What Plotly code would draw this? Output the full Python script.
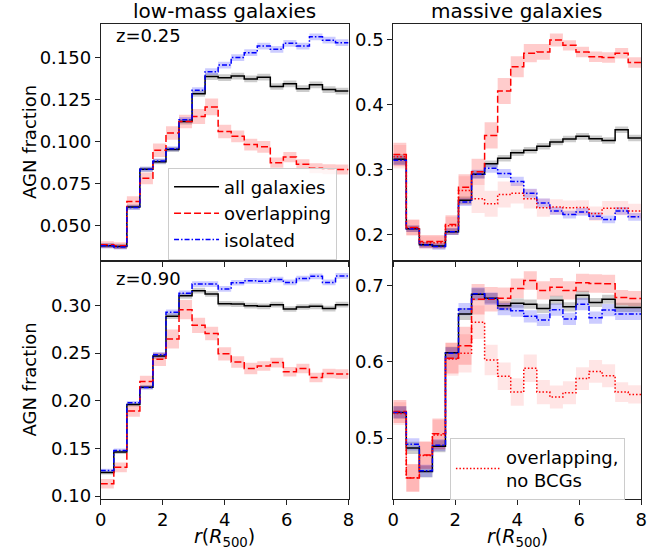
import numpy as np
import plotly.graph_objects as go

# ---------------- data ----------------
r_edges = np.linspace(0, 8, 20)  # 19 radial bins in units of R500

# low-mass, z=0.25
lm25_all = [0.0383, 0.0379, 0.0613, 0.0837, 0.0882, 0.0954, 0.1120, 0.1285, 0.1387, 0.1380,
            0.1390, 0.1373, 0.1383, 0.1328, 0.1344, 0.1315, 0.1338, 0.1310, 0.1301]
lm25_all_err = [0.0015, 0.0015, 0.0015, 0.0015, 0.0015, 0.0015, 0.0017, 0.0018, 0.0020, 0.0020,
                0.0020, 0.0020, 0.0020, 0.0020, 0.0020, 0.0020, 0.0020, 0.0020, 0.0020]
lm25_ovl = [0.0389, 0.0383, 0.0646, 0.0783, 0.0950, 0.1052, 0.1120, 0.1150, 0.1207, 0.1061,
            0.1032, 0.0983, 0.0970, 0.0876, 0.0909, 0.0866, 0.0843, 0.0837, 0.0835]
lm25_ovl_err = [0.0020, 0.0020, 0.0030, 0.0035, 0.0040, 0.0040, 0.0040, 0.0045, 0.0050, 0.0040,
                0.0035, 0.0035, 0.0035, 0.0030, 0.0030, 0.0030, 0.0030, 0.0030, 0.0030]
lm25_iso = [0.0383, 0.0375, 0.0610, 0.0837, 0.0886, 0.0958, 0.1130, 0.1305, 0.1416, 0.1455,
            0.1500, 0.1529, 0.1568, 0.1549, 0.1584, 0.1568, 0.1623, 0.1603, 0.1588]
lm25_iso_err = [0.0015, 0.0015, 0.0015, 0.0015, 0.0015, 0.0015, 0.0017, 0.0018, 0.0020, 0.0020,
                0.0020, 0.0020, 0.0020, 0.0020, 0.0020, 0.0020, 0.0020, 0.0020, 0.0020]

# massive, z=0.25
ms25_all = [0.3160, 0.2095, 0.1850, 0.1830, 0.2050, 0.2530, 0.2930, 0.3090, 0.3175, 0.3260,
            0.3300, 0.3360, 0.3427, 0.3472, 0.3512, 0.3477, 0.3447, 0.3613, 0.3487]
ms25_all_err = [0.008, 0.005, 0.004, 0.004, 0.005, 0.006, 0.006, 0.005, 0.005, 0.005,
                0.005, 0.005, 0.005, 0.005, 0.005, 0.005, 0.005, 0.005, 0.005]
ms25_ovl = [0.3235, 0.2115, 0.1900, 0.1900, 0.2160, 0.2730, 0.2970, 0.3527, 0.4208, 0.4581,
            0.4788, 0.4808, 0.4990, 0.4909, 0.4808, 0.4733, 0.4723, 0.4788, 0.4647]
ms25_ovl_err = [0.018, 0.012, 0.010, 0.010, 0.014, 0.020, 0.020, 0.020, 0.020, 0.016,
                0.014, 0.012, 0.010, 0.008, 0.008, 0.008, 0.008, 0.008, 0.008]
ms25_iso = [0.3144, 0.2095, 0.1843, 0.1823, 0.2050, 0.2504, 0.2930, 0.3023, 0.2943, 0.2821,
            0.2640, 0.2489, 0.2368, 0.2312, 0.2352, 0.2287, 0.2237, 0.2368, 0.2277]
ms25_iso_err = [0.007, 0.005, 0.005, 0.005, 0.005, 0.006, 0.007, 0.007, 0.007, 0.007,
                0.007, 0.007, 0.006, 0.006, 0.006, 0.006, 0.006, 0.006, 0.006]
ms25_nobcg = [0.3200, 0.2110, 0.1880, 0.1880, 0.2140, 0.2680, 0.2554, 0.2478, 0.2620, 0.2640,
              0.2554, 0.2418, 0.2428, 0.2418, 0.2420, 0.2327, 0.2410, 0.2410, 0.2367]
ms25_nobcg_err = [0.018, 0.012, 0.010, 0.010, 0.014, 0.022, 0.022, 0.020, 0.020, 0.016,
                  0.015, 0.014, 0.012, 0.011, 0.011, 0.011, 0.011, 0.011, 0.011]

# low-mass, z=0.90
lm90_all = [0.1247, 0.1463, 0.1960, 0.2142, 0.2468, 0.2887, 0.3100, 0.3154, 0.3120, 0.3017,
            0.3014, 0.2997, 0.2990, 0.3007, 0.2962, 0.2983, 0.2990, 0.2966, 0.3007]
lm90_all_err = [0.002, 0.002, 0.002, 0.002, 0.003, 0.003, 0.003, 0.003, 0.003, 0.003,
                0.003, 0.003, 0.003, 0.003, 0.003, 0.003, 0.003, 0.003, 0.003]
lm90_ovl = [0.1130, 0.1302, 0.1892, 0.2201, 0.2434, 0.2647, 0.2955, 0.2791, 0.2705, 0.2492,
            0.2407, 0.2338, 0.2365, 0.2400, 0.2304, 0.2338, 0.2245, 0.2286, 0.2280]
lm90_ovl_err = [0.005, 0.005, 0.006, 0.006, 0.007, 0.010, 0.010, 0.008, 0.007, 0.007,
                0.006, 0.006, 0.005, 0.005, 0.005, 0.005, 0.005, 0.005, 0.005]
lm90_iso = [0.1268, 0.1480, 0.1978, 0.2139, 0.2482, 0.2928, 0.3127, 0.3223, 0.3223, 0.3172,
            0.3237, 0.3257, 0.3254, 0.3271, 0.3240, 0.3281, 0.3305, 0.3240, 0.3309]
lm90_iso_err = [0.002, 0.002, 0.002, 0.002, 0.003, 0.003, 0.003, 0.003, 0.003, 0.003,
                0.003, 0.003, 0.003, 0.003, 0.003, 0.003, 0.003, 0.003, 0.003]

# massive, z=0.90
ms90_all = [0.5335, 0.4870, 0.4561, 0.4892, 0.6118, 0.6626, 0.6884, 0.6832, 0.6733, 0.6768,
            0.6755, 0.6699, 0.6806, 0.6720, 0.6871, 0.6776, 0.6819, 0.6712, 0.6712]
ms90_all_err = [0.008, 0.008, 0.008, 0.008, 0.008, 0.008, 0.008, 0.007, 0.006, 0.006,
                0.006, 0.006, 0.006, 0.006, 0.006, 0.006, 0.006, 0.006, 0.006]
ms90_ovl = [0.5348, 0.4475, 0.4776, 0.5056, 0.6045, 0.6209, 0.6819, 0.6819, 0.6832, 0.6961,
            0.7065, 0.6935, 0.6978, 0.6935, 0.7034, 0.7026, 0.7022, 0.6841, 0.6828]
ms90_ovl_err = [0.015, 0.018, 0.018, 0.020, 0.020, 0.025, 0.020, 0.016, 0.014, 0.013,
                0.012, 0.012, 0.012, 0.012, 0.012, 0.012, 0.012, 0.010, 0.010]
ms90_iso = [0.5335, 0.4918, 0.4570, 0.4905, 0.6110, 0.6690, 0.6892, 0.6828, 0.6690, 0.6669,
            0.6596, 0.6548, 0.6682, 0.6561, 0.6755, 0.6578, 0.6677, 0.6626, 0.6626]
ms90_iso_err = [0.008, 0.008, 0.008, 0.008, 0.008, 0.008, 0.008, 0.008, 0.008, 0.008,
                0.008, 0.008, 0.008, 0.008, 0.008, 0.008, 0.008, 0.008, 0.008]
ms90_nobcg = [0.5320, 0.4480, 0.4770, 0.5040, 0.6037, 0.6110, 0.6518, 0.6024, 0.5809, 0.5602,
              0.5916, 0.5602, 0.5538, 0.5594, 0.5779, 0.5873, 0.5817, 0.5602, 0.5572]
ms90_nobcg_err = [0.015, 0.018, 0.018, 0.020, 0.022, 0.025, 0.022, 0.020, 0.018, 0.018,
                  0.018, 0.016, 0.015, 0.015, 0.015, 0.015, 0.015, 0.013, 0.012]

panel_titles = ["low-mass galaxies", "massive galaxies"]
z_labels = ["z=0.25", "z=0.90"]

# ---------------- styling ----------------
FONT = "DejaVu Sans"
BLACK = "#000000"
RED = "#ff0000"
BLUE = "#0000ff"

W, H = 671, 558
xdom_left = [96.5 / W, 348.8 / W]
xdom_right = [394.3 / W, 646.8 / W]
ydom_top = [1 - 265 / H, 1 - 24 / H]
ydom_bot = [1 - 506 / H, 1 - 265 / H]

fig = go.Figure()


def step_xy(vals):
    return list(r_edges), list(vals) + [vals[-1]]


def add_band(ax, vals, err, fill):
    lo = [v - e for v, e in zip(vals, err)]
    hi = [v + e for v, e in zip(vals, err)]
    x, ylo = step_xy(lo)
    _, yhi = step_xy(hi)
    fig.add_trace(go.Scatter(x=x, y=ylo, mode="lines", line=dict(width=0, shape="hv"),
                             showlegend=False, hoverinfo="skip", xaxis="x" + ax, yaxis="y" + ax))
    fig.add_trace(go.Scatter(x=x, y=yhi, mode="lines", line=dict(width=0, shape="hv"),
                             fill="tonexty", fillcolor=fill, showlegend=False, hoverinfo="skip",
                             xaxis="x" + ax, yaxis="y" + ax))


def add_line(ax, vals, color, dash, name, showlegend=False, legend="legend", width=1.5):
    x, y = step_xy(vals)
    fig.add_trace(go.Scatter(x=x, y=y, mode="lines", name=name,
                             line=dict(color=color, width=width, dash=dash, shape="hv"),
                             showlegend=showlegend, legend=legend,
                             xaxis="x" + ax, yaxis="y" + ax))


DASH = "7px,3px"
DASHDOT = "5px,2px,1.5px,2px"
DOT = "1.5px,2px"

panels = [
    ("", lm25_all, lm25_all_err, lm25_ovl, lm25_ovl_err, lm25_iso, lm25_iso_err, None, None),
    ("2", ms25_all, ms25_all_err, ms25_ovl, ms25_ovl_err, ms25_iso, ms25_iso_err, ms25_nobcg, ms25_nobcg_err),
    ("3", lm90_all, lm90_all_err, lm90_ovl, lm90_ovl_err, lm90_iso, lm90_iso_err, None, None),
    ("4", ms90_all, ms90_all_err, ms90_ovl, ms90_ovl_err, ms90_iso, ms90_iso_err, ms90_nobcg, ms90_nobcg_err),
]

for ax, a, ae, o, oe, i, ie, nb, nbe in panels:
    add_band(ax, a, ae, "rgba(0,0,0,0.2)")
    add_band(ax, o, oe, "rgba(255,0,0,0.2)")
    add_band(ax, i, ie, "rgba(0,0,255,0.2)")
    if nb is not None:
        add_band(ax, nb, nbe, "rgba(255,0,0,0.1)")
    first = ax == ""
    add_line(ax, a, BLACK, "solid", "all galaxies", showlegend=first)
    add_line(ax, o, RED, DASH, "overlapping", showlegend=first)
    add_line(ax, i, BLUE, DASHDOT, "isolated", showlegend=first)
    if nb is not None:
        add_line(ax, nb, RED, DOT, "overlapping,<br>no BCGs", showlegend=(ax == "4"),
                 legend="legend2")

axis_common = dict(showline=True, mirror=True, linecolor="#222222", linewidth=1,
                   ticks="outside", ticklen=5, tickwidth=1, tickcolor="#222222",
                   showgrid=False, zeroline=False,
                   tickfont=dict(family=FONT, size=18, color="#000000"))

xcommon = dict(axis_common, range=[0, 8], tickvals=[0, 2, 4, 6, 8])

fig.update_layout(
    width=W, height=H,
    margin=dict(l=0, r=0, t=0, b=0),
    paper_bgcolor="white", plot_bgcolor="white",
    font=dict(family=FONT, size=18, color="#000000"),
    xaxis=dict(xcommon, domain=xdom_left, anchor="y", showticklabels=False),
    yaxis=dict(axis_common, domain=ydom_top, anchor="x", range=[0.0291, 0.1701],
               tickvals=[0.05, 0.075, 0.1, 0.125, 0.15], tickformat=".3f"),
    xaxis2=dict(xcommon, domain=xdom_right, anchor="y2", showticklabels=False),
    yaxis2=dict(axis_common, domain=ydom_top, anchor="x2", range=[0.1596, 0.5242],
                tickvals=[0.2, 0.3, 0.4, 0.5], tickformat=".1f"),
    xaxis3=dict(xcommon, domain=xdom_left, anchor="y3"),
    yaxis3=dict(axis_common, domain=ydom_bot, anchor="x3", range=[0.0973, 0.3463],
                tickvals=[0.10, 0.15, 0.20, 0.25, 0.30], tickformat=".2f"),
    xaxis4=dict(xcommon, domain=xdom_right, anchor="y4"),
    yaxis4=dict(axis_common, domain=ydom_bot, anchor="x4", range=[0.4204, 0.7318],
                tickvals=[0.5, 0.6, 0.7], tickformat=".1f"),
    legend=dict(x=165 / W, y=1 - 170 / H, xanchor="left", yanchor="top",
                bgcolor="rgba(255,255,255,0.8)", bordercolor="#cccccc", borderwidth=1,
                font=dict(family=FONT, size=18), traceorder="normal", itemwidth=45),
    legend2=dict(x=452 / W, y=1 - 444 / H, xanchor="left", yanchor="top",
                 bgcolor="rgba(255,255,255,0.8)", bordercolor="#cccccc", borderwidth=1,
                 font=dict(family=FONT, size=18), itemwidth=45),
)

ann = []
# column titles
ann.append(dict(text=panel_titles[0], x=(xdom_left[0] + xdom_left[1]) / 2, y=1 - 11 / H, size=20))
ann.append(dict(text=panel_titles[1], x=(xdom_right[0] + xdom_right[1]) / 2, y=1 - 11 / H, size=20))
# redshift labels
ann.append(dict(text=z_labels[0], x=145 / W, y=1 - 36 / H))
ann.append(dict(text=z_labels[1], x=145 / W, y=1 - 283 / H))
# y-axis titles
ann.append(dict(text="AGN fraction", x=24 / W, y=1 - 144.5 / H, textangle=-90))
ann.append(dict(text="AGN fraction", x=24 / W, y=1 - 385.5 / H, textangle=-90))
# x-axis titles
xlab = "<i>r</i>(<i>R</i><sub>500</sub>)"
ann.append(dict(text=xlab, x=(xdom_left[0] + xdom_left[1]) / 2, y=1 - 545 / H, size=19))
ann.append(dict(text=xlab, x=(xdom_right[0] + xdom_right[1]) / 2, y=1 - 545 / H, size=19))

for a_ in ann:
    size = a_.pop("size", 18)
    a_.update(xref="paper", yref="paper", showarrow=False, xanchor="center", yanchor="middle",
              font=dict(family=FONT, size=size, color="#000000"))
fig.update_layout(annotations=ann)

fig.write_html("out.html")
